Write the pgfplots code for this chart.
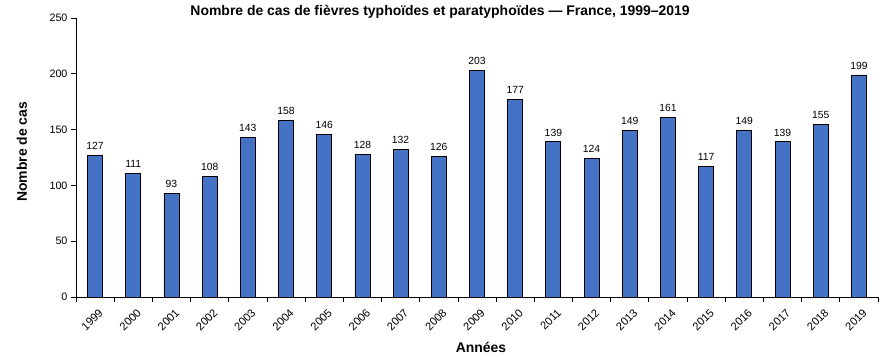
\documentclass[border=0pt]{standalone}
\usepackage{pgfplots}
\pgfplotsset{compat=1.18}
\usepackage{fontspec}
\setmainfont{Liberation Sans}
\definecolor{barblue}{HTML}{4472C4}
\begin{document}
\begin{tikzpicture}[x=1bp,y=1bp]
\path[use as bounding box] (-76bp,-61bp) rectangle (818bp,297bp);
\begin{axis}[
  at={(0,0)}, anchor=south west,
  scale only axis, width=802bp, height=279bp,
  xmin=-0.5, xmax=20.5, ymin=0, ymax=250,
  axis x line*=bottom, axis y line*=left,
  axis line style={black, line width=0.8pt, -},
  ytick={0,50,...,250},
  xtick={0,...,20},
  xticklabels={1999,2000,2001,2002,2003,2004,2005,2006,2007,2008,2009,2010,2011,2012,2013,2014,2015,2016,2017,2018,2019},
  xticklabel style={font=\fontsize{11.2}{12}\selectfont, inner sep=0pt, xshift=3bp, yshift=-6bp, rotate=45, anchor=north east},
  y tick label style={font=\fontsize{10.8}{12}\selectfont},
  /pgf/number format/assume math mode=true,
  major x tick style={draw=none},
  minor xtick={-0.5,0.5,...,20.5},
  minor tick length=5bp,
  major tick length=5bp,
  tick align=outside,
  tick style={black, line width=0.8pt},
  ybar, bar width=15bp,
  nodes near coords,
  every node near coord/.append style={font=\fontsize{10.4}{12}\selectfont, black, yshift=2bp},
  xlabel={\textbf{Années}},
  every axis x label/.style={at={(axis description cs:0.505,0)}, yshift=-55bp, anchor=base, font=\fontsize{14}{16}\selectfont},
  ylabel={\textbf{Nombre de cas}},
  every axis y label/.style={at={(axis description cs:0,0.52)}, xshift=-54bp, rotate=90, anchor=center, font=\fontsize{14}{16}\selectfont},
  title={\textbf{Nombre de cas de fièvres typhoïdes et paratyphoïdes — France, 1999–2019}},
  every axis title/.style={at={(axis description cs:0.454,1)}, yshift=2.5bp, anchor=base, font=\fontsize{14}{16}\selectfont},
  clip=false,
]
\addplot[fill=barblue, draw=black, line width=0.8pt] coordinates {
(0,127) (1,111) (2,93) (3,108) (4,143) (5,158) (6,146) (7,128) (8,132) (9,126)
(10,203) (11,177) (12,139) (13,124) (14,149) (15,161) (16,117) (17,149) (18,139) (19,155) (20,199)
};
\end{axis}
\end{tikzpicture}
\end{document}
